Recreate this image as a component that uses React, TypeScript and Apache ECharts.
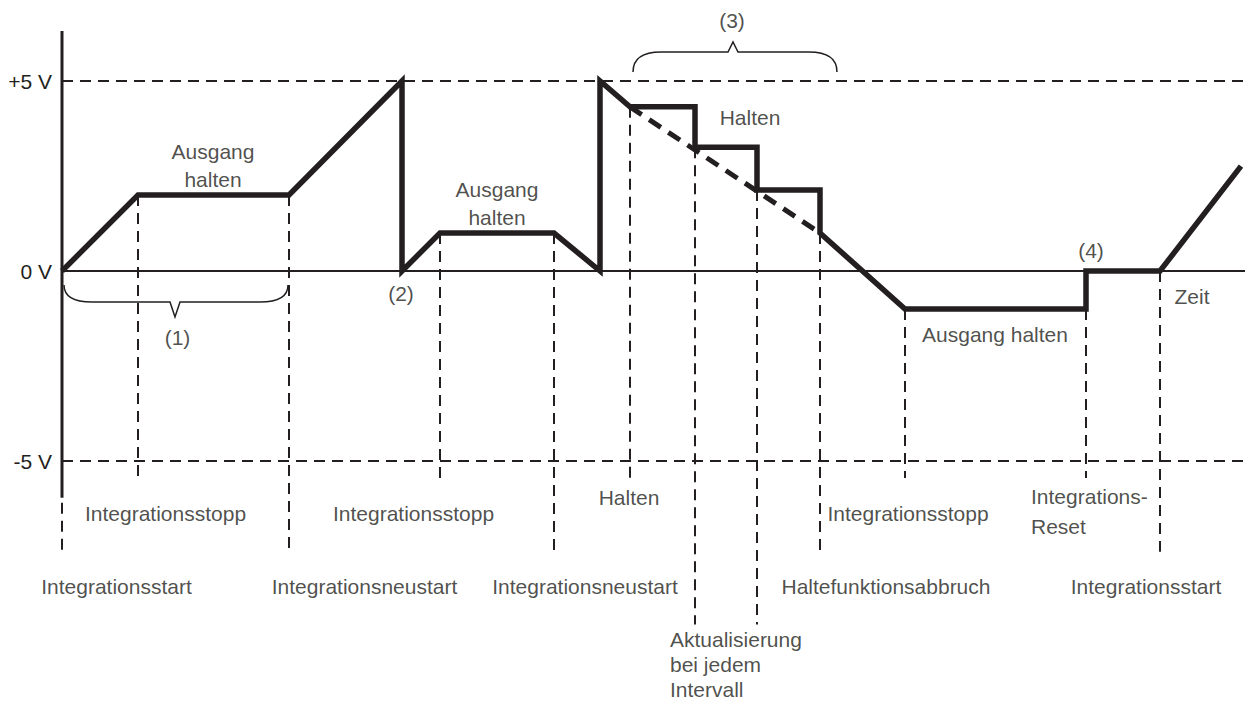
import React, { useEffect, useRef } from 'react';
import * as echarts from 'echarts';

const INK = '#231f20';
const FONT = '"Liberation Sans", Arial, Helvetica, sans-serif';

// Time axis (arbitrary units) and voltage axis (V)
const timeMin = 0;
const timeMax = 118.3;
const voltMin = -11.316;
const voltMax = 7.132;

// Voltage tick labels
const voltTicks = [5, 0, -5];
const voltTickLabels = ['+5 V', '0 V', '-5 V'];

// Reference levels
const dashedLevels = [5, -5];
const zeroLevel = 0;

// Vertical axis extent
const axisTop = 6.316;
const axisSolidBottom = -5.97;
const axisDashFrom = -6.1;
const axisDashTo = -7.42;

// Integrator output waveform
const waveT = [0, 7.6, 22.7, 34.0, 34.0, 37.8, 49.2, 53.8, 53.8, 56.8, 63.3, 63.3, 69.5, 69.5, 75.8, 75.8, 84.3, 102.4, 102.4, 109.8, 117.9];
const waveV = [0, 2, 2, 5, 0, 1, 1, 0, 5, 4.32, 4.32, 3.26, 3.26, 2.13, 2.13, 1.0, -1, -1, 0, 0, 2.76];

// Dashed continuation of the ramp during hold
const rampT = [56.8, 75.8];
const rampV = [4.32, 1.0];

// Vertical event markers
const guideT = [7.6, 22.7, 37.8, 49.2, 56.8, 63.3, 69.5, 75.8, 84.3, 102.4, 109.8];
const guideFrom = [2, 2, 1, 1, 4.32, 3.26, 2.13, 1.0, -1, -1, 0];
const guideTo = [-5.45, -7.39, -5.45, -7.39, -5.45, -9.3, -9.3, -7.39, -5.45, -5.45, -7.39];

// Braces: [startT, endT, endV, flatV, tipV, tipT]
const braceData = [
  [0.2, 22.6, -0.368, -0.816, -1.21, 11.3],
  [57.1, 77.5, 5.237, 5.763, 6.026, 67.1],
];

// Annotations
const noteText = [
  'Ausgang\nhalten', 'Ausgang\nhalten', '(1)', '(2)', '(3)', 'Halten', '(4)', 'Zeit', 'Ausgang halten',
  'Integrationsstopp', 'Integrationsstopp', 'Halten', 'Integrationsstopp', 'Integrations-\nReset',
  'Integrationsstart', 'Integrationsneustart', 'Integrationsneustart', 'Haltefunktionsabbruch', 'Integrationsstart',
  'Aktualisierung\nbei jedem\nIntervall',
];
const noteT = [15.1, 43.5, 11.55, 33.9, 67.0, 68.8, 102.9, 113.0, 93.3, 10.35, 35.15, 56.7, 84.6, 96.9, 5.45, 30.25, 52.3, 82.4, 108.4, 60.8];
const noteV = [2.78, 1.78, -1.76, -0.6, 6.58, 4.05, 0.55, -0.68, -1.66, -6.37, -6.37, -5.95, -6.37, -6.34, -8.29, -8.29, -8.29, -8.29, -8.29, -10.35];
const noteAlign = ['center', 'center', 'center', 'center', 'center', 'center', 'center', 'center', 'center', 'center', 'center', 'center', 'center', 'left', 'center', 'center', 'center', 'center', 'center', 'left'];
const noteLineHeight = [28.5, 28.5, 24, 24, 24, 24, 24, 24, 24, 24, 24, 24, 24, 30, 24, 24, 24, 24, 24, 25];

export default function App() {
  const ref = useRef<HTMLDivElement>(null);

  useEffect(() => {
    if (!ref.current) return;
    const chart = echarts.init(ref.current, undefined, { renderer: 'svg' });

    const guideLines = guideT.map((t, i) => ({ coords: [[t, guideFrom[i]], [t, guideTo[i]]] }));
    guideLines.push({ coords: [[timeMin, axisDashFrom], [timeMin, axisDashTo]] });
    const levelLines = dashedLevels.map((v) => ({ coords: [[timeMin, v], [timeMax, v]] }));

    const option: any = {
      animation: false,
      backgroundColor: '#ffffff',
      grid: { left: 62, right: 0, top: 0, bottom: 0, containLabel: false },
      xAxis: { type: 'value', min: timeMin, max: timeMax, show: false },
      yAxis: {
        type: 'value',
        min: voltMin,
        max: voltMax,
        axisLine: { show: false },
        axisTick: { show: false },
        splitLine: { show: false },
        axisLabel: {
          customValues: voltTicks,
          margin: 10,
          fontSize: 21,
          fontFamily: FONT,
          color: INK,
          formatter: (v: number) => {
            const i = voltTicks.indexOf(v);
            return i >= 0 ? voltTickLabels[i] : '';
          },
        },
      },
      series: [
        {
          type: 'lines',
          coordinateSystem: 'cartesian2d',
          silent: true,
          z: 1,
          lineStyle: { color: INK, width: 2, type: [11, 7], opacity: 1 },
          data: levelLines,
        },
        {
          type: 'line',
          silent: true,
          z: 1,
          symbol: 'none',
          lineStyle: { color: INK, width: 2 },
          data: [[timeMin, zeroLevel], [timeMax, zeroLevel]],
        },
        {
          type: 'lines',
          coordinateSystem: 'cartesian2d',
          silent: true,
          z: 2,
          lineStyle: { color: INK, width: 2, type: [11, 7], opacity: 1 },
          data: guideLines,
        },
        {
          type: 'line',
          silent: true,
          z: 3,
          symbol: 'none',
          lineStyle: { color: INK, width: 3 },
          data: [[timeMin, axisTop], [timeMin, axisSolidBottom]],
        },
        {
          type: 'line',
          silent: true,
          z: 4,
          symbol: 'none',
          lineStyle: { color: INK, width: 5, type: [14, 9] },
          data: rampT.map((t, i) => [t, rampV[i]]),
        },
        {
          type: 'line',
          silent: true,
          z: 5,
          symbol: 'none',
          lineStyle: { color: INK, width: 5.5, join: 'miter', miterLimit: 10, cap: 'butt' },
          data: waveT.map((t, i) => [t, waveV[i]]),
        },
        {
          type: 'custom',
          silent: true,
          z: 6,
          encode: { x: [0, 1, 5], y: [2, 3, 4] },
          data: braceData,
          renderItem: (_params: any, api: any) => {
            const a = api.coord([api.value(0), api.value(2)]);
            const b = api.coord([api.value(1), api.value(2)]);
            const flat = api.coord([api.value(0), api.value(3)])[1];
            const tip = api.coord([api.value(5), api.value(4)]);
            const r = 28;
            const hw = 5;
            const d =
              `M${a[0]},${a[1]} Q${a[0]},${flat} ${a[0] + r},${flat} ` +
              `L${tip[0] - hw},${flat} L${tip[0]},${tip[1]} L${tip[0] + hw},${flat} ` +
              `L${b[0] - r},${flat} Q${b[0]},${flat} ${b[0]},${b[1]}`;
            return {
              type: 'path',
              shape: { pathData: d },
              style: { fill: 'none', stroke: INK, lineWidth: 1.5 },
            };
          },
        },
        {
          type: 'scatter',
          silent: true,
          z: 7,
          symbolSize: 0,
          label: {
            show: true,
            position: 'inside',
            formatter: (p: any) => p.name,
            fontSize: 21,
            fontFamily: FONT,
            color: INK,
            verticalAlign: 'middle',
          },
          data: noteText.map((s, i) => ({
            name: s,
            value: [noteT[i], noteV[i]],
            label: { align: noteAlign[i], lineHeight: noteLineHeight[i] },
          })),
        },
      ],
    };

    chart.setOption(option);
    return () => chart.dispose();
  }, []);

  return (
    <div
      ref={ref}
      style={{ position: 'absolute', left: 0, top: 0, width: 1245, height: 701, background: '#fff' }}
    />
  );
}
